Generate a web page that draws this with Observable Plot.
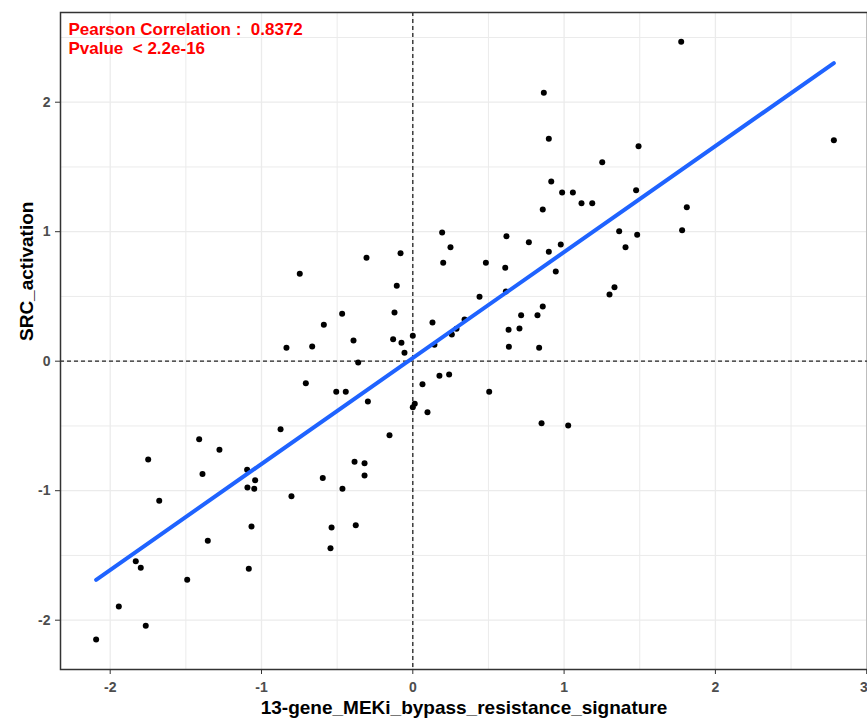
<!DOCTYPE html>
<html>
<head>
<meta charset="utf-8">
<script src="https://cdn.jsdelivr.net/npm/d3@7"></script>
<script src="https://cdn.jsdelivr.net/npm/@observablehq/plot@0.6"></script>
<style>
  html, body { margin: 0; padding: 0; background: #fff; }
  svg text { white-space: pre; }
</style>
</head>
<body>
<div id="chart"></div>
<script>
// Values
const signature = [
  1.774, 0.866, 2.783, 0.899, 1.492, 1.252, 0.915, 0.987, 1.058, 1.115,
  1.186, 0.859, 1.476, 1.811, 1.364, 1.483, 1.780, 0.194, 0.619, 0.767,
  -0.081, 0.249, 0.201, 0.483, 0.611, 0.899, 0.978, 0.945, 1.406, 1.333,
  1.300, 0.615, 0.441, 0.859, 0.824, 0.716, 0.633, 0.705, 0.635, 0.835,
  0.342, 0.289, 0.258, 0.130, 0.143, 0.000, -0.075, -0.055, 0.176, 0.240,
  0.064, 0.505, 0.013, 0.000, 0.097, 0.851, 1.027, -0.306, -0.747, -0.106,
  -0.121, -0.467, -0.588, -0.392, -0.130, -0.835, -0.665, -0.361, -0.707, -0.506,
  -0.443, -0.297, -0.874, -0.154, -1.412, -1.278, -1.749, -0.385, -0.319, -1.095,
  -1.390, -1.042, -1.093, -1.048, -0.319, -0.595, -0.465, -0.802, -1.676, -1.066,
  -0.537, -0.377, -1.355, -0.544, -1.831, -1.798, -1.084, -1.491, -1.943, -1.765,
  -2.093
];
const srcActivation = [
  2.466, 2.073, 1.707, 1.717, 1.660, 1.537, 1.388, 1.303, 1.303, 1.220,
  1.220, 1.171, 1.320, 1.189, 1.004, 0.976, 1.012, 0.994, 0.965, 0.919,
  0.834, 0.880, 0.760, 0.760, 0.721, 0.845, 0.901, 0.693, 0.880, 0.571,
  0.515, 0.538, 0.497, 0.422, 0.355, 0.355, 0.242, 0.252, 0.111, 0.103,
  0.322, 0.250, 0.206, 0.299, 0.127, 0.196, 0.142, 0.065, -0.113, -0.103,
  -0.178, -0.236, -0.329, -0.355, -0.394, -0.479, -0.497, 0.798, 0.675, 0.582,
  0.376, 0.366, 0.281, 0.160, 0.170, 0.103, 0.114, -0.010, -0.170, -0.236,
  -0.236, -0.311, -0.525, -0.571, -0.602, -0.684, -0.759, -0.777, -0.788, -0.839,
  -0.872, -0.919, -0.975, -0.985, -0.883, -0.901, -0.985, -1.042, -1.078, -1.276,
  -1.284, -1.266, -1.387, -1.444, -1.544, -1.595, -1.603, -1.688, -1.894, -2.043,
  -2.149
];
const xMajorTicks = [-2, -1, 0, 1, 2, 3];
const xMinorTicks = [-1.5, -0.5, 0.5, 1.5, 2.5];
const yMajorTicks = [-2, -1, 0, 1, 2];
const yMinorTicks = [-1.5, -0.5, 0.5, 1.5, 2.5];
const xTitle = "13-gene_MEKi_bypass_resistance_signature";
const yTitle = "SRC_activation";
const statsText = "Pearson Correlation :  0.8372\nPvalue  < 2.2e-16";

const data = signature.map((x, i) => ({x, y: srcActivation[i]}));

const font = "'Liberation Sans', Arial, Helvetica, sans-serif";
const fmt = d => String(d);
const lastX = xMajorTicks[xMajorTicks.length - 1];

const chart = Plot.plot({
  width: 867,
  height: 720,
  marginLeft: 60,
  marginRight: 0,
  marginTop: 12,
  marginBottom: 51,
  style: {fontFamily: font, fontSize: "14px", background: "#fff", overflow: "visible"},
  x: {domain: [-2.3285, 3.0053], label: null},
  y: {domain: [-2.3807, 2.6927], label: null},
  marks: [
    Plot.gridX({ticks: xMinorTicks, stroke: "#ebebeb", strokeOpacity: 1, strokeWidth: 1}),
    Plot.gridY({ticks: yMinorTicks, stroke: "#ebebeb", strokeOpacity: 1, strokeWidth: 1}),
    Plot.gridX({ticks: xMajorTicks, stroke: "#ebebeb", strokeOpacity: 1, strokeWidth: 1.3}),
    Plot.gridY({ticks: yMajorTicks, stroke: "#ebebeb", strokeOpacity: 1, strokeWidth: 1.3}),
    Plot.ruleX([0], {stroke: "#222", strokeWidth: 1.3, strokeDasharray: "4,3"}),
    Plot.ruleY([0], {stroke: "#222", strokeWidth: 1.3, strokeDasharray: "4,3"}),
    Plot.dot(data, {x: "x", y: "y", r: 3, fill: "#000", stroke: "none"}),
    Plot.linearRegressionY(data, {x: "x", y: "y", ci: 0, stroke: "#1f63ff", strokeWidth: 4}),
    Plot.frame({stroke: "#333", strokeWidth: 1.5}),
    Plot.axisX({ticks: xMajorTicks, tickSize: 5, text: null, stroke: "#333", label: null}),
    Plot.axisX({ticks: xMajorTicks.slice(0, -1), tickSize: 0, tickPadding: 13, tickFormat: fmt, label: null,
      fill: "#4d4d4d", fontWeight: "bold", fontSize: 14}),
    Plot.axisX({ticks: [lastX], tickSize: 0, tickPadding: 13, tickFormat: fmt, label: null,
      textAnchor: "end", dx: 1, fill: "#4d4d4d", fontWeight: "bold", fontSize: 14}),
    Plot.axisY({ticks: yMajorTicks, tickSize: 5, tickPadding: 5, tickFormat: fmt, label: null,
      stroke: "#333", fill: "#4d4d4d", fontWeight: "bold", fontSize: 14}),
    Plot.text([xTitle], {frameAnchor: "bottom", lineAnchor: "bottom", dy: 44,
      fontSize: 19, fontWeight: "bold", fill: "#000"}),
    Plot.text([yTitle], {frameAnchor: "left", rotate: -90, lineAnchor: "bottom", dx: -28,
      fontSize: 19, fontWeight: "bold", fill: "#000"}),
    Plot.text([statsText], {frameAnchor: "top-left", textAnchor: "start", lineAnchor: "top",
      dx: 8, dy: 9, lineHeight: 1.12, fontSize: 17, fontWeight: "bold", fill: "#ff0000"})
  ]
});
document.getElementById("chart").appendChild(chart);
</script>
</body>
</html>
